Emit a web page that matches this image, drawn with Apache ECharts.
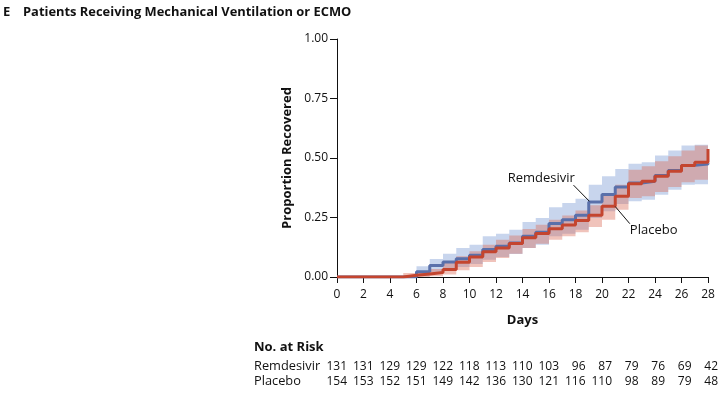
<!DOCTYPE html>
<html>
<head>
<meta charset="utf-8">
<script src="https://cdn.jsdelivr.net/npm/echarts@6/dist/echarts.min.js"></script>
<style>
html,body{margin:0;padding:0;background:#fff;}
#chart{width:720px;height:393px;}
</style>
</head>
<body>
<div id="chart"></div>
<script>
// ---- data ----
const days = [0,1,2,3,4,5,6,7,8,9,10,11,12,13,14,15,16,17,18,19,20,21,22,23,24,25,26,27,28];
const remdesivir = [0,0,0,0,0,0,0.022,0.048,0.063,0.077,0.091,0.116,0.129,0.143,0.171,0.188,0.225,0.241,0.259,0.315,0.347,0.378,0.395,0.402,0.426,0.447,0.469,0.475,0.478];
const remdesivirLower = [0,0,0,0,0,0,0.003,0.02,0.03,0.042,0.055,0.073,0.084,0.097,0.122,0.136,0.171,0.182,0.199,0.248,0.276,0.307,0.318,0.325,0.346,0.367,0.388,0.39,0.39];
const remdesivirUpper = [0,0,0,0,0,0,0.045,0.076,0.098,0.122,0.136,0.171,0.182,0.199,0.231,0.248,0.293,0.311,0.329,0.388,0.423,0.454,0.476,0.482,0.51,0.532,0.552,0.556,0.556];
const placebo = [0,0,0,0,0,0.007,0.013,0.019,0.031,0.062,0.084,0.106,0.122,0.141,0.165,0.183,0.203,0.218,0.237,0.259,0.297,0.339,0.392,0.402,0.423,0.444,0.468,0.482,0.538];
const placeboLower = [0,0,0,0,0,0,0,0.003,0.01,0.028,0.042,0.063,0.08,0.098,0.122,0.14,0.157,0.171,0.188,0.21,0.241,0.283,0.332,0.339,0.357,0.378,0.398,0.409,0.409];
const placeboUpper = [0,0,0,0,0,0.017,0.024,0.034,0.059,0.087,0.108,0.136,0.157,0.174,0.202,0.22,0.241,0.258,0.279,0.301,0.346,0.388,0.451,0.465,0.486,0.507,0.532,0.552,0.552];
const riskDays = [0,2,4,6,8,10,12,14,16,18,20,22,24,26,28];
const remdesivirRisk = [131,131,129,129,122,118,113,110,103,96,87,79,76,69,42];
const placeboRisk = [154,153,152,151,149,142,136,130,121,116,110,98,89,79,48];

// ---- chart ----
const FONT = 'Open Sans';
const chart = echarts.init(document.getElementById('chart'), null, {renderer:'canvas'});
const pairs = (arr) => days.map((d,i)=>[d, arr[i]]);

// band polygon: step-shaped confidence band built through api.coord
function bandSeries(lower, upper, color, z){
  return {
    type:'custom', xAxisIndex:0, yAxisIndex:0, silent:true, z:z, clip:true,
    data: days.map((d,i)=>[d, lower[i], upper[i]]),
    renderItem:(params, api)=>{
      if (params.dataIndex !== 0) return null;
      const top = [], bot = [];
      for (let i=0;i<days.length;i++){
        const x0 = days[i], x1 = (i+1<days.length) ? days[i+1] : days[i];
        top.push(api.coord([x0, upper[i]]), api.coord([x1, upper[i]]));
        bot.push(api.coord([x0, lower[i]]), api.coord([x1, lower[i]]));
      }
      const pts = top.concat(bot.reverse());
      return {type:'polygon', shape:{points:pts}, style:{fill:color, stroke:null}};
    }
  };
}

function riskAxis(arr, offset){
  return {
    type:'value', gridIndex:0, position:'bottom', offset:offset,
    min:0, max:28, interval:2,
    axisLine:{show:false}, axisTick:{show:false}, splitLine:{show:false},
    axisLabel:{
      show:true, margin:0, hideOverlap:false, showMinLabel:true, showMaxLabel:true,
      fontFamily:FONT, fontSize:12, color:'#111',
      formatter:(v)=>{ const k = riskDays.indexOf(v); return k<0 ? '' : '{n|'+arr[k]+'}'; },
      rich:{n:{width:20, align:'right', fontFamily:FONT, fontSize:12, color:'#111'}}
    }
  };
}

const option = {
  animation:false,
  backgroundColor:'#fff',
  title:[
    {text:'E', left:3, top:6, padding:0, textStyle:{fontFamily:FONT, fontWeight:'bold', fontSize:13, color:'#111'}},
    {text:'Patients Receiving Mechanical Ventilation or ECMO', left:23, top:6, padding:0, textStyle:{fontFamily:FONT, fontWeight:'bold', fontSize:12.9, color:'#111'}}
  ],
  grid:{left:337, right:12, top:39, bottom:116, outerBoundsMode:'none', containLabel:false},
  xAxis:[
    {
      type:'value', min:0, max:28, interval:2,
      name:'Days', nameLocation:'middle', nameGap:37,
      nameTextStyle:{fontFamily:FONT, fontWeight:'bold', fontSize:13, color:'#111'},
      axisLine:{show:true, onZero:false, lineStyle:{color:'#111', width:1}},
      axisTick:{show:true, length:6, lineStyle:{color:'#111'}},
      axisLabel:{fontFamily:FONT, fontSize:12, color:'#111', margin:12, hideOverlap:false},
      splitLine:{show:false}
    },
    riskAxis(remdesivirRisk, 84),
    riskAxis(placeboRisk, 99)
  ],
  yAxis:{
    type:'value', min:0, max:1, interval:0.25,
    name:'Proportion Recovered', nameLocation:'middle', nameGap:43, nameRotate:90,
    nameTextStyle:{fontFamily:FONT, fontWeight:'bold', fontSize:13, color:'#111'},
    axisLine:{show:true, lineStyle:{color:'#111', width:1}},
    axisTick:{show:true, length:7, lineStyle:{color:'#111'}},
    axisLabel:{fontFamily:FONT, fontSize:12, color:'#111', margin:9, formatter:(v)=>v.toFixed(2)},
    splitLine:{show:false}
  },
  series:[
    bandSeries(remdesivirLower, remdesivirUpper, 'rgba(125,155,212,0.42)', 1),
    bandSeries(placeboLower, placeboUpper, 'rgba(218,105,85,0.4)', 2),
    {name:'Remdesivir', type:'line', step:'end', data:pairs(remdesivir), symbol:'none', lineStyle:{color:'#5a70aa', width:3}, z:3},
    {name:'Placebo', type:'line', step:'end', data:pairs(placebo), symbol:'none', lineStyle:{color:'#c4452f', width:3}, z:4}
  ]
};
chart.setOption(option);

// annotations positioned through the chart's own coordinate conversion
const px = (d, v) => chart.convertToPixel({xAxisIndex:0, yAxisIndex:0}, [d, v]);
const rA = px(17.85, 0.386), rB = px(19.05, 0.318);
const pA = px(21.0, 0.296), pB = px(22.1, 0.224);
const rT = px(17.95, 0.416), pT = px(22.1, 0.196);
chart.setOption({
  graphic:[
    {type:'line', shape:{x1:rA[0], y1:rA[1], x2:rB[0], y2:rB[1]}, style:{stroke:'#111', lineWidth:1}, z:10},
    {type:'line', shape:{x1:pA[0], y1:pA[1], x2:pB[0], y2:pB[1]}, style:{stroke:'#111', lineWidth:1}, z:10},
    {type:'text', x:rT[0], y:rT[1], style:{text:'Remdesivir', fill:'#111', font:'13px "Open Sans"', align:'right', verticalAlign:'middle'}, z:10},
    {type:'text', x:pT[0], y:pT[1], style:{text:'Placebo', fill:'#111', font:'13px "Open Sans"', align:'left', verticalAlign:'middle'}, z:10},
    {type:'text', x:254, y:347, style:{text:'No. at Risk', fill:'#111', font:'bold 13px "Open Sans"', align:'left', verticalAlign:'middle'}},
    {type:'text', x:254, y:366, style:{text:'Remdesivir', fill:'#111', font:'12.8px "Open Sans"', align:'left', verticalAlign:'middle'}},
    {type:'text', x:254, y:381, style:{text:'Placebo', fill:'#111', font:'12.8px "Open Sans"', align:'left', verticalAlign:'middle'}}
  ]
});
</script>
</body>
</html>
